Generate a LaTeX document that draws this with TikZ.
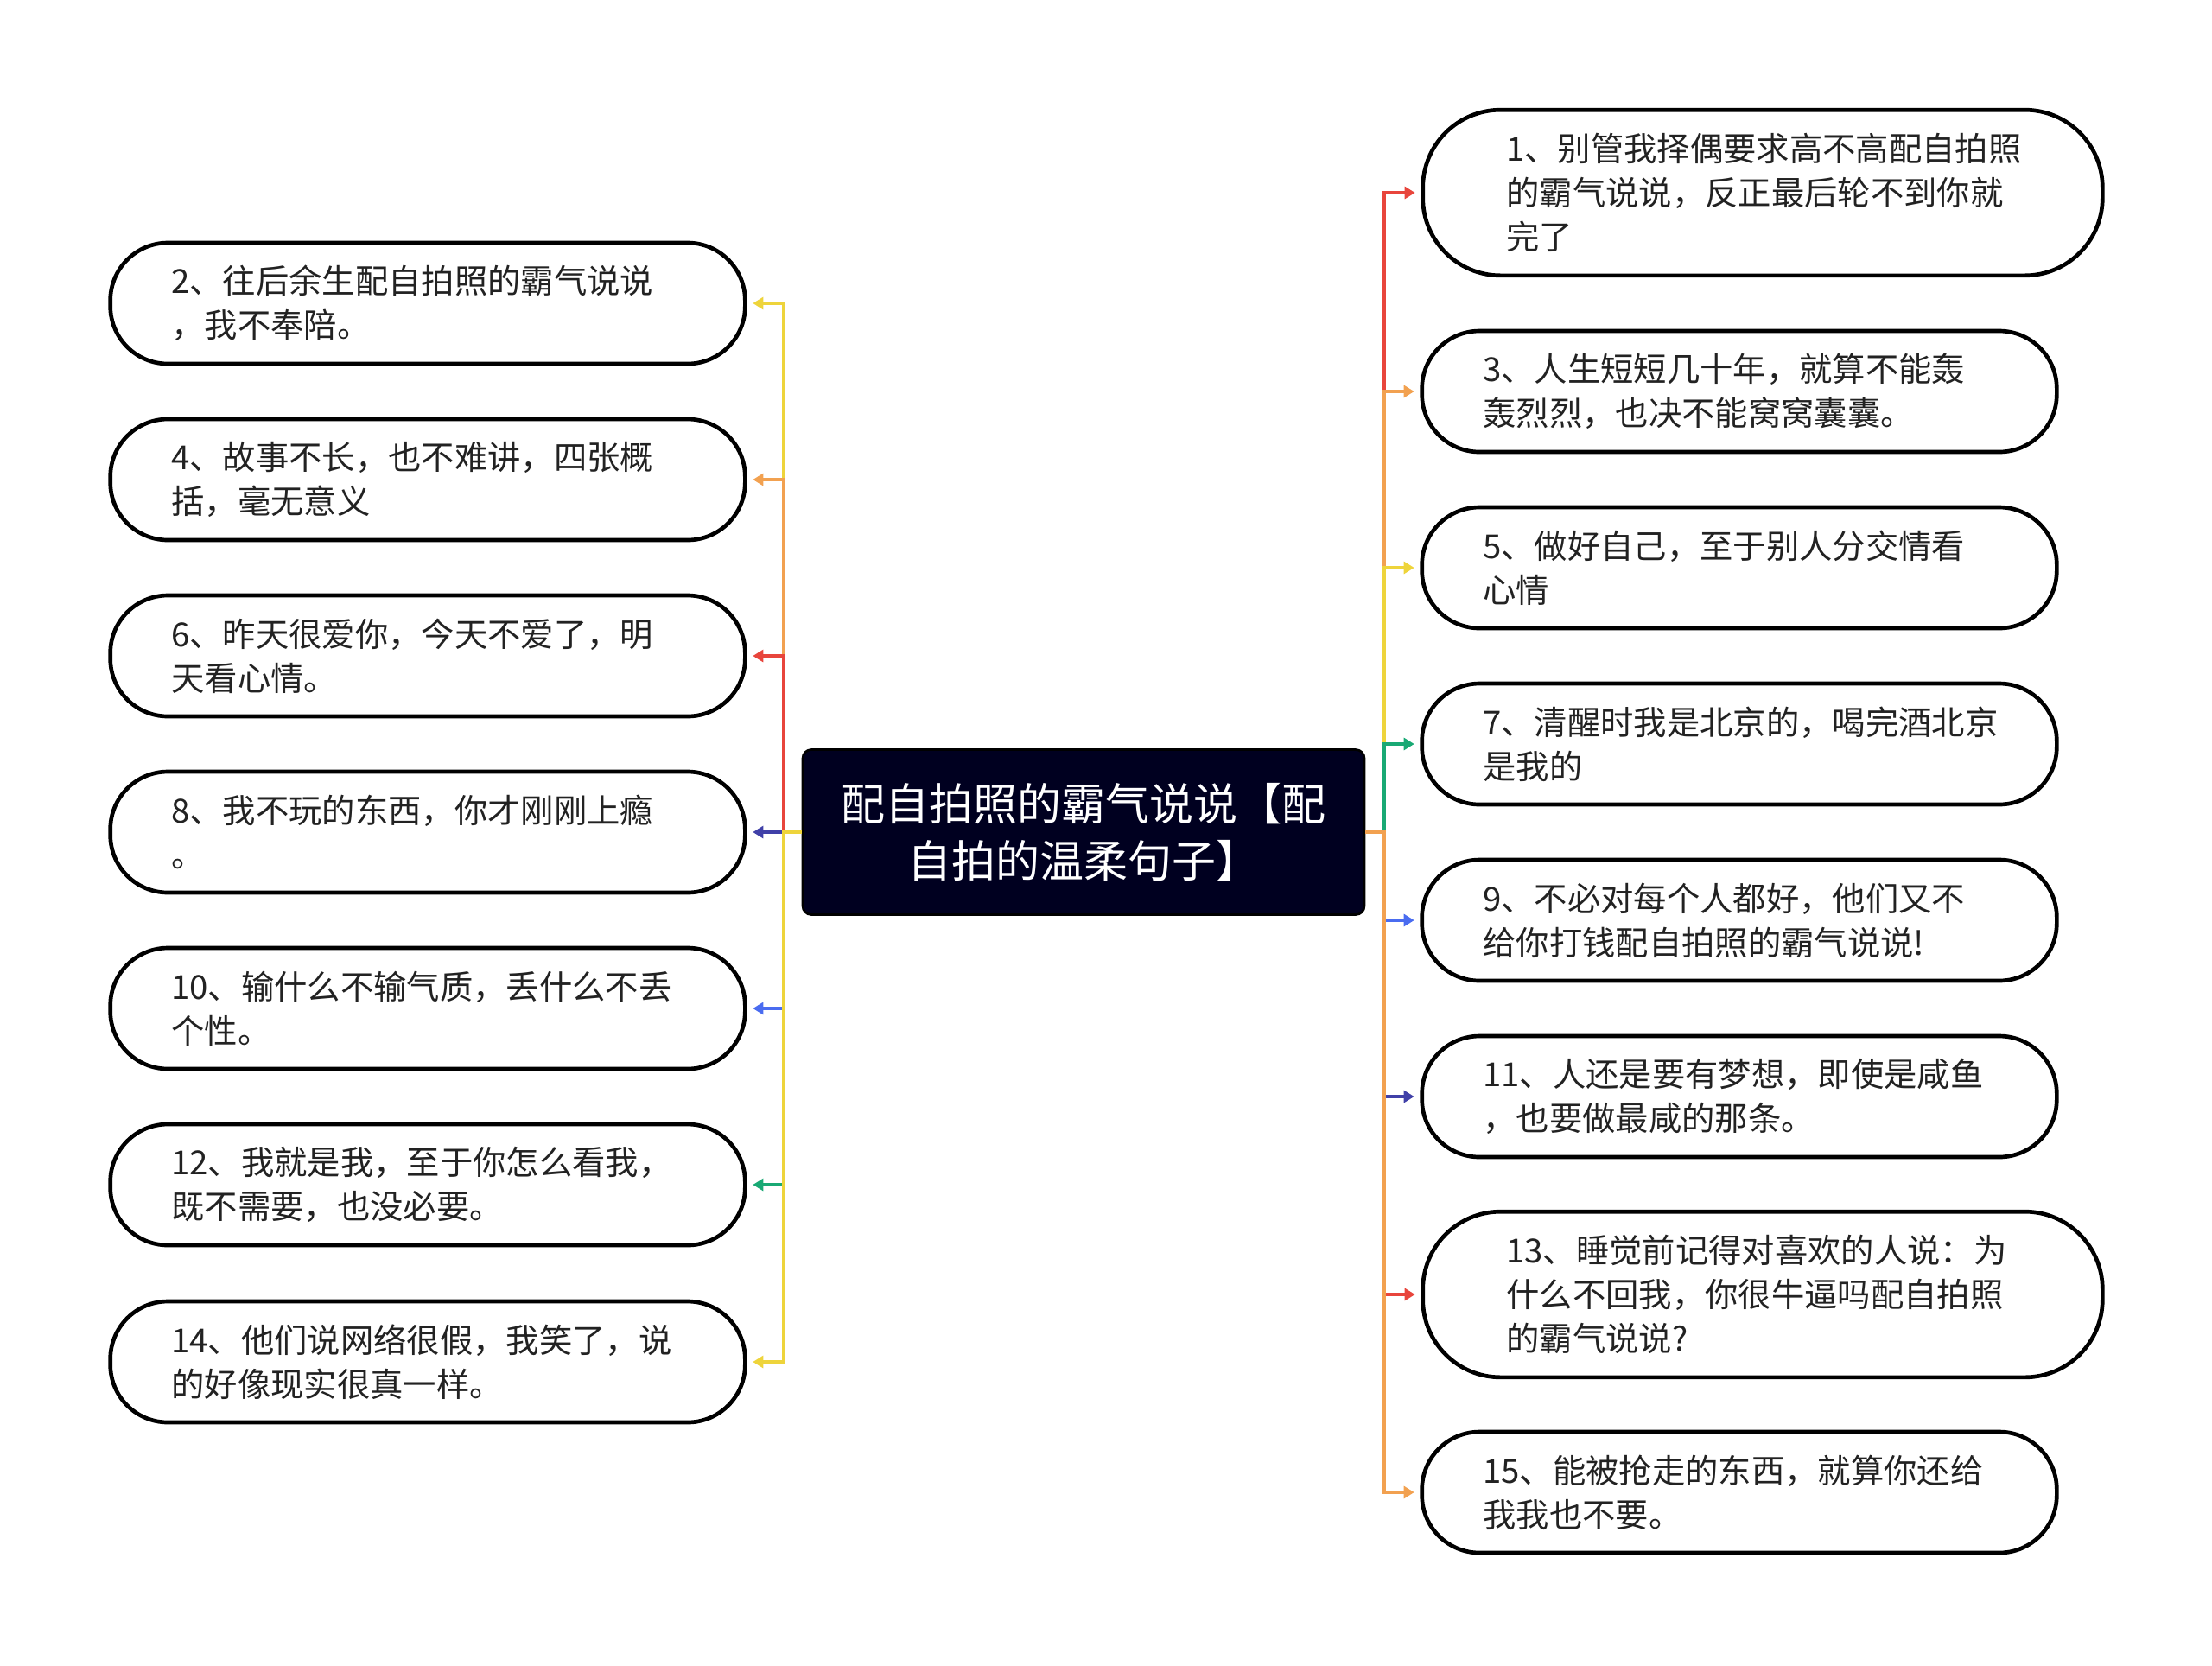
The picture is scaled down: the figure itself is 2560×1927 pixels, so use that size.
\documentclass[tikz,border=0pt]{standalone}
\usepackage{fontspec}
\setmainfont{Noto Sans CJK SC}
\usepackage{tikz}
\usetikzlibrary{arrows.meta}

\definecolor{cred}{HTML}{E8453C}
\definecolor{corange}{HTML}{F2A150}
\definecolor{cyellow}{HTML}{EED43B}
\definecolor{cgreen}{HTML}{19A974}
\definecolor{cblue}{HTML}{4A6CF0}
\definecolor{cindigo}{HTML}{4040A8}
\definecolor{cnavy}{HTML}{000020}
\definecolor{ctext}{HTML}{222222}

\begin{document}
\begin{tikzpicture}[x=0.3pt,y=-0.3pt,>={Triangle[length=3.6pt,width=4.2pt]},
  root/.style={draw=black,line width=0.8pt,fill=cnavy,rounded corners=3pt,
    minimum width=195pt,minimum height=57.3pt,text=white,align=center,
    font=\fontsize{15.3}{20}\selectfont},
  leaf/.style={draw=black,line width=1.4pt,fill=white,rounded corners=20pt,
    minimum height=42pt,text width=178pt,inner xsep=21.2pt,align=left,
    text=ctext,font=\fontsize{11.5}{15.3}\selectfont},
  bigleaf/.style={leaf,rounded corners=27pt,minimum height=57.5pt,inner xsep=29pt},
  link/.style={->,line width=1.3pt,shorten >=2pt}]

  \useasboundingbox (0,0) rectangle (2560,1927);

  \node[root] (root) at (1254,963) {配自拍照的霸气说说【配\\自拍的温柔句子】};
  \coordinate (jl) at (907,963);
  \coordinate (jr) at (1602,963);

  % left side
  \node[leaf] (n2) at (495,351) {2、往后余生配自拍照的霸气说说\\，我不奉陪。};
  \node[leaf] (n4) at (495,555) {4、故事不长，也不难讲，四张概\\括，毫无意义};
  \node[leaf] (n6) at (495,759) {6、昨天很爱你，今天不爱了，明\\天看心情。};
  \node[leaf] (n8) at (495,963) {8、我不玩的东西，你才刚刚上瘾\\。};
  \node[leaf] (n10) at (495,1167) {10、输什么不输气质，丢什么不丢\\个性。};
  \node[leaf] (n12) at (495,1371) {12、我就是我，至于你怎么看我，\\既不需要，也没必要。};
  \node[leaf] (n14) at (495,1576) {14、他们说网络很假，我笑了，说\\的好像现实很真一样。};

  % right side
  \node[bigleaf] (n1) at (2040,223) {1、别管我择偶要求高不高配自拍照\\的霸气说说，反正最后轮不到你就\\完了};
  \node[leaf] (n3) at (2013,453) {3、人生短短几十年，就算不能轰\\轰烈烈，也决不能窝窝囊囊。};
  \node[leaf] (n5) at (2013,657) {5、做好自己，至于别人分交情看\\心情};
  \node[leaf] (n7) at (2013,861) {7、清醒时我是北京的，喝完酒北京\\是我的};
  \node[leaf] (n9) at (2013,1065) {9、不必对每个人都好，他们又不\\给你打钱配自拍照的霸气说说!};
  \node[leaf] (n11) at (2013,1269) {11、人还是要有梦想，即使是咸鱼\\，也要做最咸的那条。};
  \node[bigleaf] (n13) at (2040,1498) {13、睡觉前记得对喜欢的人说：为\\什么不回我，你很牛逼吗配自拍照\\的霸气说说?};
  \node[leaf] (n15) at (2013,1727) {15、能被抢走的东西，就算你还给\\我我也不要。};

  % connectors
  \draw[link,cyellow] (root.west) -- (jl) |- (n2.east);
  \draw[link,corange] (root.west) -- (jl) |- (n4.east);
  \draw[link,cred] (root.west) -- (jl) |- (n6.east);
  \draw[link,cindigo] (root.west) -- (jl) |- (n8.east);
  \draw[link,cblue] (root.west) -- (jl) |- (n10.east);
  \draw[link,cgreen] (root.west) -- (jl) |- (n12.east);
  \draw[link,cyellow] (root.west) -- (jl) |- (n14.east);

  \draw[link,cred] (root.east) -- (jr) |- (n1.west);
  \draw[link,corange] (root.east) -- (jr) |- (n3.west);
  \draw[link,cyellow] (root.east) -- (jr) |- (n5.west);
  \draw[link,cgreen] (root.east) -- (jr) |- (n7.west);
  \draw[link,cblue] (root.east) -- (jr) |- (n9.west);
  \draw[link,cindigo] (root.east) -- (jr) |- (n11.west);
  \draw[link,cred] (root.east) -- (jr) |- (n13.west);
  \draw[link,corange] (root.east) -- (jr) |- (n15.west);
\end{tikzpicture}
\end{document}
